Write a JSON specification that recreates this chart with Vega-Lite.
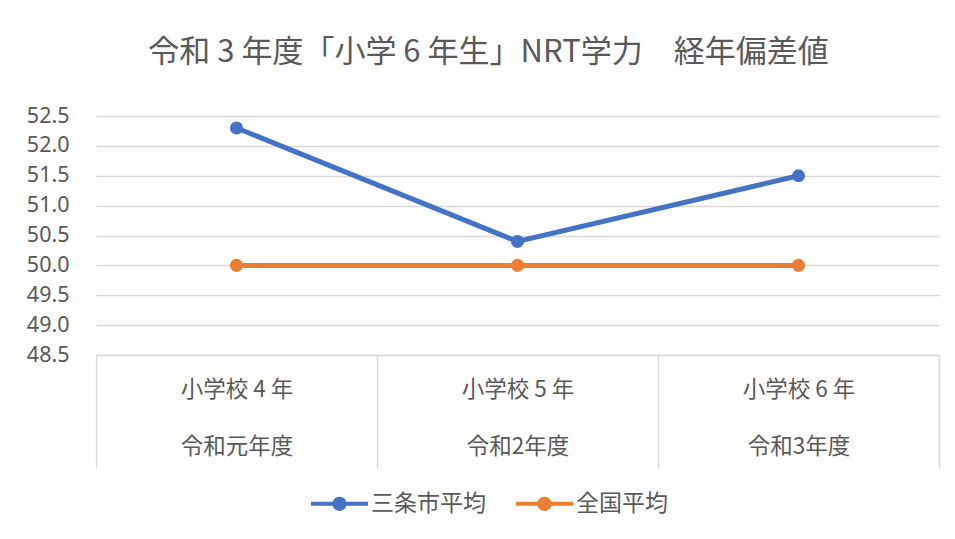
{
  "$schema": "https://vega.github.io/schema/vega-lite/v6.json",
  "autosize": {"type": "none"},
  "padding": {"left": 96, "top": 116, "right": 16, "bottom": 184},
  "width": 843,
  "height": 239,
  "background": "white",
  "config": {
    "font": "Noto Sans CJK JP",
    "view": {"stroke": null}
  },
  "title": {
    "text": "令和 3 年度「小学 6 年生」NRT学力　経年偏差値",
    "fontSize": 31,
    "fontWeight": "normal",
    "color": "#595959",
    "anchor": "middle",
    "dx": -29,
    "offset": 36
  },
  "data": {
    "values": [
      {"category": "小学校 4 年|令和元年度", "series": "三条市平均", "value": 52.3},
      {"category": "小学校 5 年|令和2年度", "series": "三条市平均", "value": 50.4},
      {"category": "小学校 6 年|令和3年度", "series": "三条市平均", "value": 51.5},
      {"category": "小学校 4 年|令和元年度", "series": "全国平均", "value": 50.0},
      {"category": "小学校 5 年|令和2年度", "series": "全国平均", "value": 50.0},
      {"category": "小学校 6 年|令和3年度", "series": "全国平均", "value": 50.0}
    ]
  },
  "mark": {"type": "line", "strokeWidth": 5, "point": {"size": 170, "filled": true, "opacity": 1}},
  "encoding": {
    "x": {
      "field": "category",
      "type": "nominal",
      "sort": null,
      "scale": {"type": "band", "paddingInner": 0, "paddingOuter": 0},
      "axis": {
        "title": null,
        "labelAngle": 0,
        "labelExpr": "split(datum.label, '|')",
        "labelFontSize": 22.5,
        "labelColor": "#595959",
        "labelLineHeight": 57,
        "labelBaseline": "top",
        "domainColor": "#d9d9d9",
        "domainWidth": 1.5,
        "tickBand": "extent",
        "tickSize": 113,
        "tickColor": "#d9d9d9",
        "tickWidth": 1.5,
        "labelPadding": -90,
        "labelFlush": false
      }
    },
    "y": {
      "field": "value",
      "type": "quantitative",
      "scale": {"domain": [48.5, 52.5], "zero": false, "nice": false},
      "axis": {
        "title": null,
        "values": [48.5, 49, 49.5, 50, 50.5, 51, 51.5, 52, 52.5],
        "format": ".1f",
        "labelFontSize": 21.5,
        "labelFont": "Noto Sans",
        "labelColor": "#595959",
        "labelPadding": 27,
        "domain": false,
        "ticks": false,
        "grid": true,
        "gridColor": "#d9d9d9",
        "gridWidth": 1.5
      }
    },
    "color": {
      "field": "series",
      "type": "nominal",
      "sort": ["三条市平均", "全国平均"],
      "scale": {"domain": ["三条市平均", "全国平均"], "range": ["#4472C4", "#ED7D31"]},
      "legend": {
        "title": null,
        "orient": "none",
        "direction": "horizontal",
        "legendX": 215,
        "legendY": 359,
        "padding": 0,
        "columnPadding": 30,
        "labelFontSize": 23,
        "labelColor": "#595959",
        "labelOffset": 3,
        "symbolType": "M-1,-0.07H-0.2V0.07H-1Z M0.2,-0.07H1V0.07H0.2Z M0.25,0A0.25,0.25 0 1,1 -0.25,0A0.25,0.25 0 1,1 0.25,0Z",
        "symbolSize": 3249,
        "symbolStrokeWidth": 0,
        "encode": {
          "symbols": {
            "update": {
              "fill": {"scale": "color", "field": "value"},
              "fillOpacity": {"value": 1},
              "strokeWidth": {"value": 0}
            }
          }
        }
      }
    }
  }
}
